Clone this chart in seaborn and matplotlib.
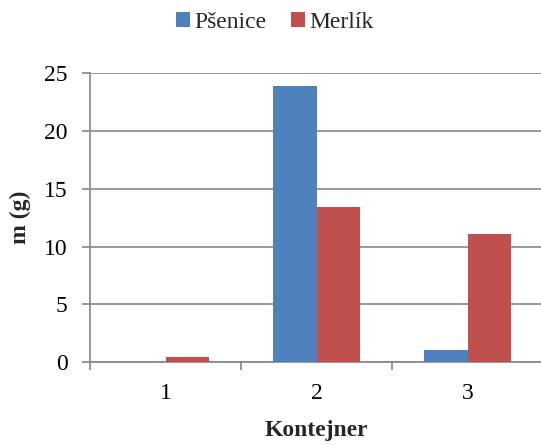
import matplotlib
matplotlib.use('Agg')
import matplotlib.pyplot as plt
import seaborn as sns
import pandas as pd

# data
kontejner = ['1', '2', '3']
psenice = [0.0, 23.9, 1.0]
merlik = [0.45, 13.4, 11.1]
serie = ['Pšenice', 'Merlík']
barvy = ['#4F81BD', '#C0504D']

df = pd.DataFrame({
    'Kontejner': kontejner * 2,
    'm': psenice + merlik,
    'serie': [serie[0]] * 3 + [serie[1]] * 3,
})

sns.set_theme(style='white')
plt.rcParams['font.family'] = ['Liberation Serif', 'DejaVu Serif']

fig = plt.figure(figsize=(5.41, 4.45), dpi=100)
# plot area runs off the right edge, like in the original
ax = fig.add_axes([0.1664, 0.1865, 0.8373, 0.6488])

sns.barplot(data=df, x='Kontejner', y='m', hue='serie', palette=barvy,
            width=0.57, ax=ax, saturation=1, edgecolor='none', zorder=3)

ax.set_ylim(0, 25)
ax.set_xlim(-0.5, 2.5)
ax.set_yticks([0, 5, 10, 15, 20, 25])
ax.yaxis.grid(True, color='#868686', linewidth=1.2, zorder=0)
ax.set_axisbelow(True)

for s in ['top', 'right']:
    ax.spines[s].set_visible(False)
for s in ['left', 'bottom']:
    ax.spines[s].set_color('#868686')
    ax.spines[s].set_linewidth(1.2)

ax.set_xticks([-0.5, 0.5, 1.5, 2.5], minor=True)
ax.tick_params(axis='x', which='major', length=0, labelsize=17, pad=15, colors='black')
ax.tick_params(axis='x', which='minor', length=6, width=1.2, color='#868686', direction='out', bottom=True)
ax.tick_params(axis='y', length=6, width=1.2, color='#868686', direction='out', labelsize=17,
               left=True, pad=10, labelcolor='black')

ax.set_xlabel('Kontejner', fontsize=17, fontweight='bold')
ax.set_ylabel('m (g)', fontsize=17, fontweight='bold')
ax.xaxis.set_label_coords(0.5, -0.2)
ax.yaxis.label.set_va('center')
ax.yaxis.set_label_coords(-0.1545, 0.5)

ax.legend_.remove()
handles, labels = ax.get_legend_handles_labels()
fig.legend(handles, labels, loc='center', bbox_to_anchor=(0.508, 0.95), ncol=2, frameon=False,
           fontsize=17, handlelength=0.6, handleheight=0.6, handletextpad=0.2,
           columnspacing=1.0, borderaxespad=0)

fig.savefig('out.png', dpi=100)
